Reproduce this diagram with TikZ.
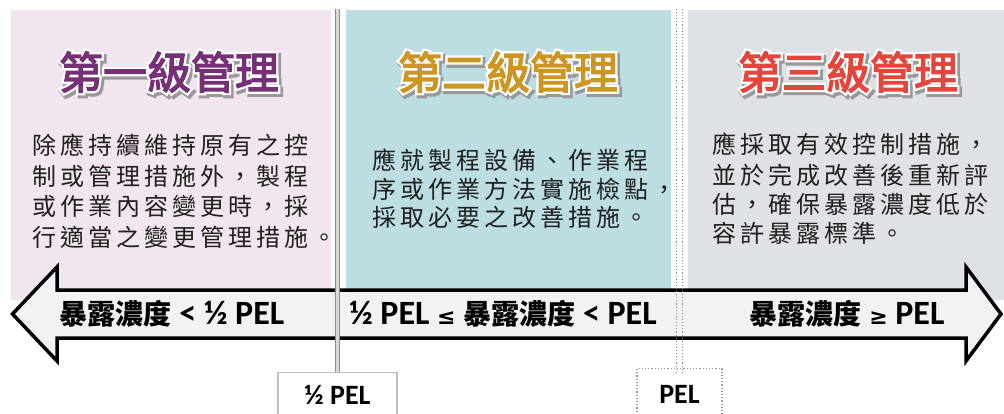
\documentclass[tikz,border=0pt]{standalone}
\usepackage{fontspec}
\setmainfont{Carlito}
\newfontfamily\cjk{Noto Sans CJK TC}
\newfontfamily\cjkbody[LetterSpace=17]{Noto Sans CJK TC}
\newfontfamily\titlemain[FakeBold=3]{Noto Sans CJK TC}
\newfontfamily\titlehalo[FakeBold=13]{Noto Sans CJK TC}
\newfontfamily\titleshadow[FakeBold=16]{Noto Sans CJK TC}
\newfontfamily\symfont{DejaVu Sans}
\definecolor{pinkbg}{RGB}{241,229,239}
\definecolor{tealbg}{RGB}{188,222,227}
\definecolor{graybg}{RGB}{222,225,229}
\definecolor{arrowfill}{RGB}{242,242,242}
\definecolor{tpurple}{RGB}{118,48,118}
\definecolor{tgold}{RGB}{205,150,35}
\definecolor{tred}{RGB}{228,70,62}
\newcommand\cjklab[1]{{\cjk\bfseries\fontsize{28}{28}\selectfont #1}}
\newcommand\relsym[1]{{\symfont\fontsize{22}{22}\selectfont #1}}
\tikzset{
  bodytext/.style={anchor=base west, inner sep=0pt, text=black!88,
    font=\cjkbody\fontsize{24}{24}\selectfont},
  titletext/.style={inner sep=0pt, font=\titlemain\fontsize{44}{44}\selectfont},
  titlehalotext/.style={inner sep=0pt, text=white, font=\titlehalo\fontsize{44}{44}\selectfont},
  titleshadowtext/.style={inner sep=0pt, text=black!40, xshift=2pt, yshift=-2.5pt,
    font=\titleshadow\fontsize{44}{44}\selectfont},
  arrowbody/.style={draw=black, line width=3.5pt, fill=arrowfill, line join=miter},
  arrowlabel/.style={inner sep=0pt, font=\bfseries\fontsize{34}{34}\selectfont},
  pelbox/.style={anchor=north, fill=white, inner sep=0pt},
  boxlabel/.style={inner sep=0pt, font=\bfseries\fontsize{28}{28}\selectfont},
}
\newcommand\mktitle[5]{%
  \node[titleshadowtext] (#1s) at (#2,#3) {#5};
  \node[titlehalotext] (#1h) at (#2,#3) {#5};
  \node[titletext, text=#4] (#1) at (#2,#3) {#5};
}
\begin{document}
\begin{tikzpicture}[x=1pt, y=-1pt]
\useasboundingbox (0,0) rectangle (1004,414);
\clip (0,0) rectangle (1004,414);
% panels
\fill[pinkbg] (11,10) rectangle (331,300);
\fill[tealbg] (346,10) rectangle (671,300);
\fill[graybg] (688,10) rectangle (1004,300);
% titles
\mktitle{t1}{169}{72}{tpurple}{第一級管理}
\mktitle{t2}{508}{72}{tgold}{第二級管理}
\mktitle{t3}{848}{72}{tred}{第三級管理}
% body texts
\node[bodytext] (a1) at (32,155) {除應持續維持原有之控};
\node[bodytext] (a2) at (32,186) {制或管理措施外，製程};
\node[bodytext] (a3) at (32,216) {或作業內容變更時，採};
\node[bodytext] (a4) at (32,247) {行適當之變更管理措施。};
\node[bodytext] (b1) at (372,170) {應就製程設備、作業程};
\node[bodytext] (b2) at (372,199) {序或作業方法實施檢點，};
\node[bodytext] (b3) at (372,227) {採取必要之改善措施。};
\node[bodytext] (c1) at (712,154) {應採取有效控制措施，};
\node[bodytext] (c2) at (712,185) {並於完成改善後重新評};
\node[bodytext] (c3) at (712,214) {估，確保暴露濃度低於};
\node[bodytext] (c4) at (712,243) {容許暴露標準。};
% double-headed arrow
\draw[arrowbody] (12.5,314) -- (57,267) -- (57,290) -- (966,290) -- (966,267)
  -- (1001,314) -- (966,361) -- (966,338) -- (57,338) -- (57,361) -- cycle;
\node[arrowlabel] (l1) at (172,314) {\cjklab{暴露濃度} < ½ PEL};
\node[arrowlabel] (l2) at (503,314) {½ PEL \relsym{≤} \cjklab{暴露濃度} < PEL};
\node[arrowlabel] (l3) at (847,314) {\cjklab{暴露濃度} \relsym{≥} PEL};
% bottom boxes
\node[pelbox, draw=black!25, line width=1.2pt, minimum width=119pt, minimum height=60pt] (bx1) at (337.5,372) {};
\node[boxlabel] (bl1) at (337.5,395) {½ PEL};
\node[pelbox, draw=black!40, dotted, line width=1.2pt, minimum width=85pt, minimum height=60pt] (bx2) at (679.5,368) {};
\node[boxlabel] (bl2) at (679.5,394) {PEL};
% marker lines
\coordinate (m1top) at (337.5,9);
\coordinate (m2top) at (679.5,9);
\draw[draw=black!45, line width=1.2pt, double=black!15, double distance=3.5pt] (m1top) -- (bx1.north);
\draw[black!45, dotted, line width=1.1pt] ([xshift=-2.8pt]m2top) -- ([xshift=-2.8pt,yshift=-6pt]bx2.north);
\draw[black!45, dotted, line width=1.1pt] ([xshift=2.8pt]m2top) -- ([xshift=2.8pt,yshift=-6pt]bx2.north);
\end{tikzpicture}
\end{document}
